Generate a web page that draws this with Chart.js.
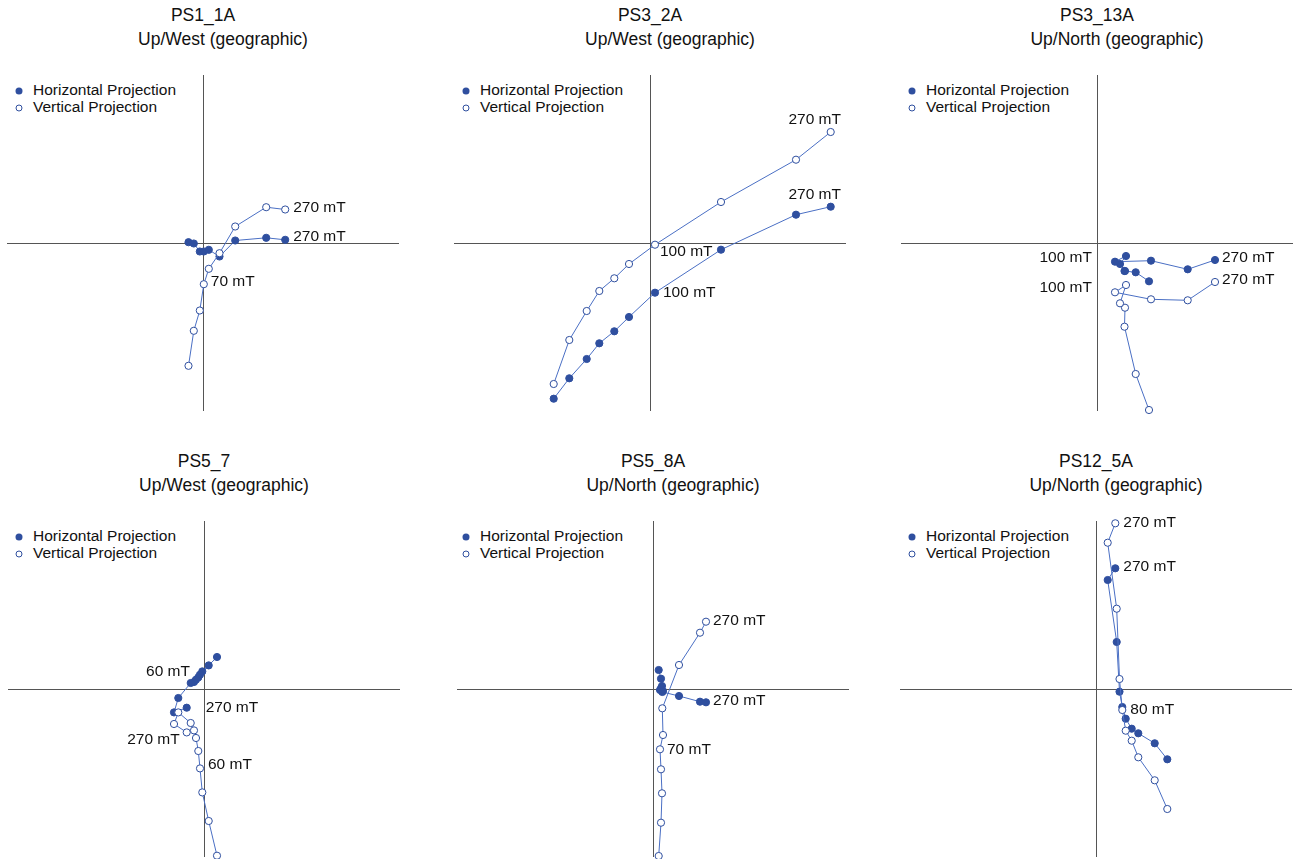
<!DOCTYPE html>
<html>
<head>
<meta charset="utf-8">
<script src="https://cdn.jsdelivr.net/npm/chart.js@4.4.0/dist/chart.umd.min.js"></script>
<style>
  html, body { margin:0; padding:0; background:#fff; }
  body { width:1295px; height:859px; position:relative; overflow:hidden; font-family:"Liberation Sans", Arial, sans-serif; color:#111; }
  canvas { position:absolute; }
  .t { position:absolute; white-space:nowrap; transform:translate(-50%,-50%); font-size:17.5px; line-height:20px; }
  .lg { position:absolute; white-space:nowrap; font-size:15.5px; line-height:18px; transform:translateY(-50%); }
  .mk { position:absolute; width:7px; height:7px; border-radius:50%; box-sizing:border-box; transform:translate(-50%,-50%); }
  .mk.f { background:#2f4f9f; }
  .mk.o { background:#fff; border:1px solid #2f4f9f; }
</style>
</head>
<body>
<script>
// ---- Data (relative units; x shared by both projections) ----
const p1_x = [-14.5, -9.2, -3.2, 0.8, 5.8, 16.5, 32.2, 63.2, 82.2];
const p1_h = [0.8, -0.5, -8.5, -8.5, -6.8, -13.5, 2.5, 5.2, 3.2];
const p1_v = [-122.8, -87.8, -67.5, -41.2, -25.8, -10.2, 16.5, 35.8, 33.5];

const p2_x = [-96.3, -80.7, -63.3, -50.7, -35.7, -21, 5, 71, 146, 180.7];
const p2_h = [-155.7, -135.3, -116, -100.3, -88.3, -74, -49.7, -6.7, 28.3, 36.3];
const p2_v = [-141, -97, -68, -48, -35.3, -21, -1.7, 41, 83.3, 111];

const p3_x = [52, 38.7, 27.5, 28, 23, 29, 18, 54, 90.7, 118];
const p3_h = [-38.3, -29.3, -28, -28, -21, -13, -18.7, -17.7, -26.3, -17];
const p3_v = [-167, -131, -83.7, -64.7, -60.3, -42, -49.3, -56.3, -57.3, -39];

const p4_x = [13, 4.7, -1.7, -4, -5.7, -8, -10, -13.3, -25.7, -30, -17.3];
const p4_h = [32, 23.6, 17.6, 14.3, 11.6, 9.3, 7, 6, -9, -23.4, -18.7];
const p4_v = [-166.7, -132, -103.4, -79.4, -62, -49, -41.4, -34, -23.4, -35, -43.4];

const p5_x = [5.7, 8, 9, 8, 7, 10, 9.3, 26, 47, 53];
const p5_h = [19, 10.3, 3, 0.7, -1, -2, -3, -7, -12.7, -13.3];
const p5_v = [-167, -133.7, -104.3, -80.3, -60.3, -46, -19.3, 24, 56.3, 67.3];

const p6_x = [71.3, 58.7, 42.3, 35.7, 29.7, 26.3, 23.5, 20.7, 11.7, 19.3];
const p6_h = [-70.3, -54.3, -44.3, -39.7, -29.7, -18, -2.7, 47, 109, 120.7];
const p6_v = [-120, -91.3, -68.3, -51.7, -41.7, -21, 10, 80.3, 146.3, 165.7];

const sampleNames = ["PS1_1A", "PS3_2A", "PS3_13A", "PS5_7", "PS5_8A", "PS12_5A"];
const subtitles = ["Up/West (geographic)", "Up/West (geographic)", "Up/North (geographic)",
                   "Up/West (geographic)", "Up/North (geographic)", "Up/North (geographic)"];
const seriesNames = ["Horizontal Projection", "Vertical Projection"];

// step labels: [dataset (0=horizontal,1=vertical), point index, text]
const p1_labels = [[1, 8, "270 mT"], [0, 8, "270 mT"], [1, 3, "70 mT"]];
const p2_labels = [[1, 9, "270 mT"], [0, 9, "270 mT"], [1, 6, "100 mT"], [0, 6, "100 mT"]];
const p3_labels = [[0, 6, "100 mT"], [1, 6, "100 mT"], [0, 9, "270 mT"], [1, 9, "270 mT"]];
const p4_labels = [[0, 3, "60 mT"], [1, 3, "60 mT"], [0, 10, "270 mT"], [1, 10, "270 mT"]];
const p5_labels = [[1, 9, "270 mT"], [0, 9, "270 mT"], [1, 4, "70 mT"]];
const p6_labels = [[1, 9, "270 mT"], [0, 9, "270 mT"], [1, 5, "80 mT"]];

// ---- Layout / style (kept apart from data) ----
const labelPlacement = [
  [["left", 8, -2], ["left", 8, -3], ["left", 7, -2]],
  [["center", -16, -12], ["center", -16, -12], ["left", 5, 7], ["left", 8, 0]],
  [["right", -23, -4], ["right", -23, -5], ["left", 7, -2], ["left", 7, -2]],
  [["right", -10, -3], ["left", 8, -4], ["left", 19, 0], ["right", -7, 7]],
  [["left", 7, -1], ["left", 7, -2], ["left", 7, 0]],
  [["left", 8, -1], ["left", 8, -2], ["left", 8, 0]]
];
const origins = [[203, 243], [650, 243], [1097, 243], [204, 689], [653, 689], [1096, 689]];
const colLeft = [0, 447, 893];
const rowTop = [0, 446];
const XR = 196, YR = 168, PAD = 14;
const FILL = "#2f4f9f", LINE = "#4a6fc4", AXIS = "#555";

const panels = [
  [p1_x, p1_h, p1_v, p1_labels], [p2_x, p2_h, p2_v, p2_labels], [p3_x, p3_h, p3_v, p3_labels],
  [p4_x, p4_h, p4_v, p4_labels], [p5_x, p5_h, p5_v, p5_labels], [p6_x, p6_h, p6_v, p6_labels]
];

const axesPlugin = {
  id: "zijAxes",
  beforeDatasetsDraw(chart) {
    const { ctx, chartArea: a, scales: { x, y } } = chart;
    const px = Math.round(x.getPixelForValue(0)) + 0.5;
    const py = Math.round(y.getPixelForValue(0)) + 0.5;
    ctx.save();
    ctx.strokeStyle = AXIS; ctx.lineWidth = 1;
    ctx.beginPath();
    ctx.moveTo(a.left, py); ctx.lineTo(a.right, py);
    ctx.moveTo(px, a.top); ctx.lineTo(px, a.bottom);
    ctx.stroke();
    ctx.restore();
  }
};

const stepLabelPlugin = {
  id: "stepLabels",
  afterDatasetsDraw(chart, args, opts) {
    const { ctx } = chart;
    ctx.save();
    ctx.font = '15.5px "Liberation Sans", Arial, sans-serif';
    ctx.fillStyle = "#111";
    ctx.textBaseline = "middle";
    opts.items.forEach((it, k) => {
      const [ds, i, text] = it;
      const [align, dx, dy] = opts.place[k];
      const el = chart.getDatasetMeta(ds).data[i];
      ctx.textAlign = align;
      ctx.fillText(text, el.x + dx, el.y + dy);
    });
    ctx.restore();
  }
};

function addDiv(cls, text, left, top) {
  const d = document.createElement("div");
  d.className = cls;
  if (text !== null) d.textContent = text;
  d.style.left = left + "px";
  d.style.top = top + "px";
  document.body.appendChild(d);
  return d;
}

panels.forEach((p, k) => {
  const [xs, hs, vs, labels] = p;
  const [ox, oy] = origins[k];
  const col = k % 3, row = Math.floor(k / 3);
  const cl = colLeft[col], rt = rowTop[row];

  // titles
  addDiv("t", sampleNames[k], ox, rt + 15);
  addDiv("t", subtitles[k], ox + 20, rt + 39);
  // legend
  addDiv("mk f", null, cl + 19, rt + 91);
  addDiv("lg", seriesNames[0], cl + 33, rt + 90);
  addDiv("mk o", null, cl + 19, rt + 108);
  addDiv("lg", seriesNames[1], cl + 33, rt + 107);

  const c = document.createElement("canvas");
  c.width = 2 * XR + 2 * PAD; c.height = 2 * YR + 2 * PAD;
  c.style.left = (ox - XR - PAD) + "px";
  c.style.top = (oy - YR - PAD) + "px";
  document.body.appendChild(c);

  new Chart(c, {
    type: "scatter",
    data: {
      datasets: [
        { label: seriesNames[0], data: xs.map((x, i) => ({ x, y: hs[i] })), showLine: true,
          borderColor: LINE, borderWidth: 1, pointRadius: 3.6, pointBackgroundColor: FILL,
          pointBorderColor: FILL, pointBorderWidth: 1, clip: false, order: 2 },
        { label: seriesNames[1], data: xs.map((x, i) => ({ x, y: vs[i] })), showLine: true,
          borderColor: LINE, borderWidth: 1, pointRadius: 3.6, pointBackgroundColor: "#fff",
          pointBorderColor: FILL, pointBorderWidth: 1, clip: false, order: 1 }
      ]
    },
    options: {
      responsive: false, animation: false, devicePixelRatio: 1,
      layout: { padding: PAD },
      elements: { line: { tension: 0 } },
      scales: {
        x: { type: "linear", min: -XR, max: XR, display: false },
        y: { type: "linear", min: -YR, max: YR, display: false }
      },
      plugins: {
        legend: { display: false }, tooltip: { enabled: false }, title: { display: false },
        stepLabels: { items: labels, place: labelPlacement[k] }
      }
    },
    plugins: [axesPlugin, stepLabelPlugin]
  });
});
</script>
</body>
</html>
